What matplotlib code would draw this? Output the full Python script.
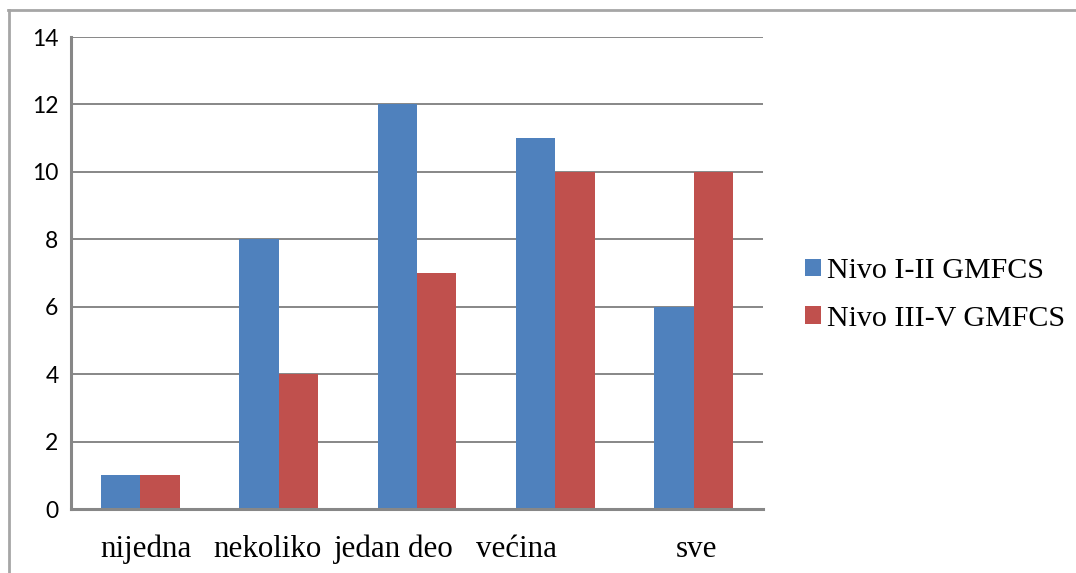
import matplotlib
matplotlib.use("Agg")
import matplotlib.pyplot as plt
from matplotlib.lines import Line2D
from matplotlib.patches import Patch
import numpy as np

categories = ["nijedna", "nekoliko", "jedan deo", "većina", "sve"]
series_names = ["Nivo I-II GMFCS", "Nivo III-V GMFCS"]
nivo_1_2 = [1, 8, 12, 11, 6]
nivo_3_5 = [1, 4, 7, 10, 10]
y_ticks = [0, 2, 4, 6, 8, 10, 12, 14]

# horizontal nudges for the category captions (in category units)
label_shift = [0.04, -0.08, -0.17, -0.28, 0.02]

blue = "#4F81BD"
red = "#C0504D"
grid_gray = "#878787"

fig = plt.figure(figsize=(10.76, 5.73), dpi=100)
ax = fig.add_axes([71 / 1076, 1 - 509 / 573, (763 - 71) / 1076, (509 - 37) / 573])

x = np.arange(len(categories))
w = 0.285
ax.bar(x - w / 2, nivo_1_2, width=w, color=blue, zorder=3)
ax.bar(x + w / 2, nivo_3_5, width=w, color=red, zorder=3)

ax.set_xlim(-0.5, len(categories) - 0.5)
ax.set_ylim(0, 14)
ax.set_yticks(y_ticks)
ax.set_yticklabels([str(v) for v in y_ticks], fontfamily="Lato", fontsize=16.5)
ax.tick_params(axis="y", length=0, pad=9)
ax.set_xticks([])
ax.yaxis.grid(True, color=grid_gray, linewidth=1.4, zorder=0)
for s in ("top", "right"):
    ax.spines[s].set_visible(False)
for s in ("left", "bottom"):
    ax.spines[s].set_color(grid_gray)
    ax.spines[s].set_linewidth(2.2)
    ax.spines[s].set_zorder(4)

caption_y = -(557 - 509) / (509 - 37)
for i, (cat, dx) in enumerate(zip(categories, label_shift)):
    ax.text(i + dx, caption_y, cat, transform=ax.get_xaxis_transform(),
            ha="center", va="baseline", fontfamily="Liberation Serif",
            fontsize=22.3, clip_on=False)

handles = [Patch(facecolor=blue, edgecolor="none"), Patch(facecolor=red, edgecolor="none")]
fig.legend(handles, series_names, loc="center left",
           bbox_to_anchor=(805 / 1076, 1 - 295 / 573), frameon=False,
           prop={"family": "Liberation Serif", "size": 21.6},
           handlelength=0.53, handleheight=0.53, handletextpad=0.2,
           labelspacing=0.72, borderpad=0.0, borderaxespad=0.0)

# outer frame around the chart area
fig.add_artist(Line2D([8 / 1076, 1.0], [1 - 9.5 / 573, 1 - 9.5 / 573],
                      transform=fig.transFigure, color="#A6A6A6", linewidth=2))
fig.add_artist(Line2D([8.5 / 1076, 8.5 / 1076], [0.0, 1 - 9.5 / 573],
                      transform=fig.transFigure, color="#A6A6A6", linewidth=2))

fig.savefig("out.png", dpi=100)
